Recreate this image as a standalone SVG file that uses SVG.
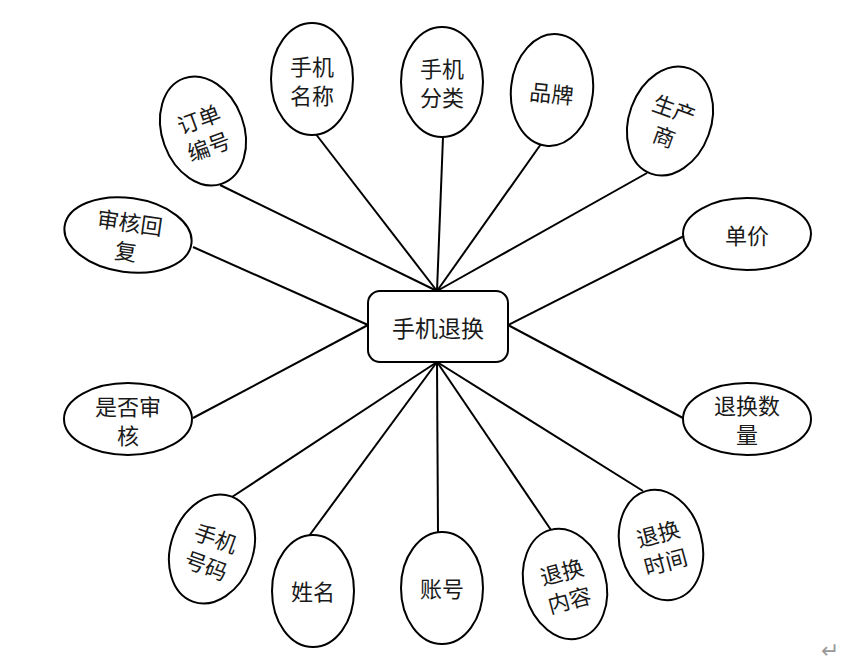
<svg xmlns="http://www.w3.org/2000/svg" width="863" height="662" viewBox="0 0 863 662">
<style>
.e{fill:#fff;stroke:#000;stroke-width:2}
.c line{stroke:#000;stroke-width:2}
text{font-family:"Noto Sans CJK SC","Noto Sans",sans-serif;font-size:22px;fill:#1a1a1a;text-anchor:middle;dominant-baseline:central}
</style>
<rect width="863" height="662" fill="#fff"/>
<g id="connectors" class="c">
<line x1="220" y1="185" x2="437" y2="291"/>
<line x1="315" y1="133" x2="437" y2="291"/>
<line x1="443" y1="137" x2="437" y2="291"/>
<line x1="541" y1="144" x2="437" y2="291"/>
<line x1="647" y1="173" x2="437" y2="291"/>
<line x1="684" y1="236" x2="508" y2="325"/>
<line x1="193" y1="247" x2="368" y2="325"/>
<line x1="193" y1="418" x2="368" y2="325"/>
<line x1="232" y1="497" x2="437" y2="362"/>
<line x1="309" y1="536" x2="437" y2="362"/>
<line x1="438" y1="532" x2="437" y2="362"/>
<line x1="551" y1="530" x2="437" y2="362"/>
<line x1="643" y1="491" x2="437" y2="362"/>
<line x1="683" y1="418" x2="508" y2="325"/>
</g>
<g id="center">
<rect x="368" y="291" width="140" height="71" rx="12" class="e"/>
<text x="438" y="327" style="font-size:23px">手机退换</text>
</g>
<g id="n-ddbh" transform="translate(203,131) rotate(-20)">
<ellipse rx="41" ry="56" class="e"/>
<text y="-14">订单</text><text y="15">编号</text>
</g>
<g id="n-sjmc" transform="translate(312,79)">
<ellipse rx="41" ry="56" class="e"/>
<text y="-14">手机</text><text y="15">名称</text>
</g>
<g id="n-sjfl" transform="translate(442,82)">
<ellipse rx="41" ry="55" class="e"/>
<text y="-15">手机</text><text y="14">分类</text>
</g>
<g id="n-pp" transform="translate(552,90) rotate(6)">
<ellipse rx="41" ry="56" class="e"/>
<text y="2">品牌</text>
</g>
<g id="n-scs" transform="translate(670,121) rotate(20)">
<ellipse rx="41" ry="56" class="e"/>
<text y="-14">生产</text><text y="15">商</text>
</g>
<g id="n-dj" transform="translate(747,234)">
<ellipse rx="64" ry="36" class="e"/>
<text y="0">单价</text>
</g>
<g id="n-shhf" transform="translate(128,235) rotate(8)">
<ellipse rx="64" ry="37" class="e"/>
<text y="-14">审核回</text><text y="15">复</text>
</g>
<g id="n-sfsh" transform="translate(128,419)">
<ellipse rx="64" ry="36" class="e"/>
<text y="-14">是否审</text><text y="15">核</text>
</g>
<g id="n-sjhm" transform="translate(212,549) rotate(20)">
<ellipse rx="41" ry="56" class="e"/>
<text y="-13">手机</text><text y="16">号码</text>
</g>
<g id="n-xm" transform="translate(313,591)">
<ellipse rx="41" ry="56" class="e"/>
<text y="-1">姓名</text>
</g>
<g id="n-zh" transform="translate(442,588)">
<ellipse rx="41" ry="56" class="e"/>
<text y="-1">账号</text>
</g>
<g id="n-thnr" transform="translate(565,584) rotate(-15)">
<ellipse rx="41" ry="56" class="e"/>
<text y="-14">退换</text><text y="15">内容</text>
</g>
<g id="n-thsj" transform="translate(661,545) rotate(-15)">
<ellipse rx="41" ry="56" class="e"/>
<text y="-13">退换</text><text y="16">时间</text>
</g>
<g id="n-thsl" transform="translate(747,419)">
<ellipse rx="64" ry="36" class="e"/>
<text y="-15">退换数</text><text y="14">量</text>
</g>
<text x="830" y="650" style="font-family:'DejaVu Sans',sans-serif;font-size:22px;fill:#999">↵</text>
</svg>
